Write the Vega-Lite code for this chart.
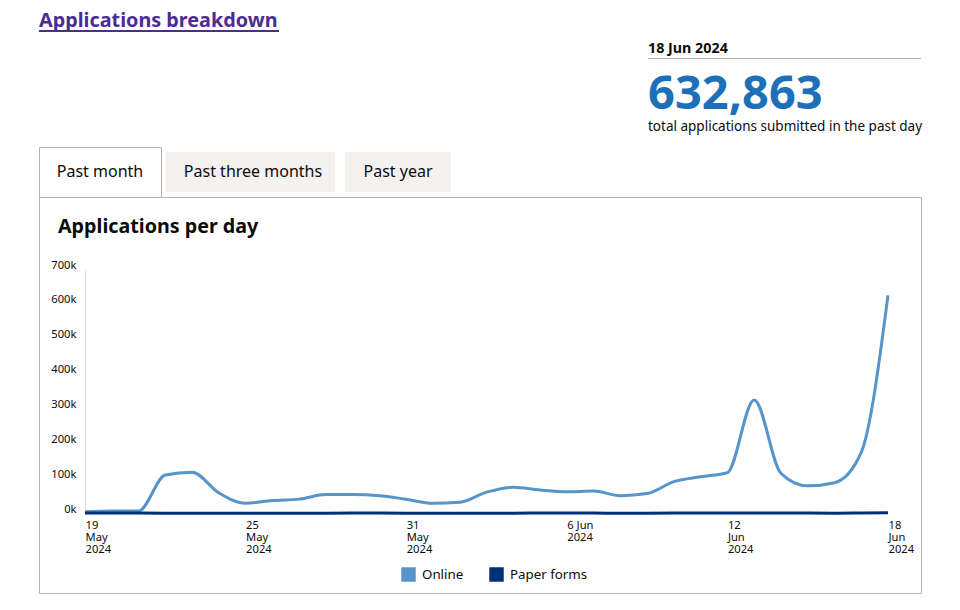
{
  "$schema": "https://vega.github.io/schema/vega-lite/v6.json",
  "background": "white",
  "padding": {"left": 38, "top": 10, "right": 40, "bottom": 17},
  "config": {
    "font": "Noto Sans",
    "view": {"stroke": null},
    "title": {"color": "#0b0c0c", "anchor": "start"}
  },
  "bounds": "flush",
  "spacing": 0,
  "vconcat": [
    {
      "width": 240,
      "height": 2,
      "view": {"fill": "#4c2c92", "stroke": null},
      "title": {"text": "Applications breakdown", "fontSize": 19.8, "fontWeight": "bold", "color": "#4c2c92", "offset": -16.5, "baseline": "alphabetic"},
      "data": {"values": []},
      "mark": "rule",
      "encoding": {}
    },
    {"width": 1, "height": 26, "data": {"values": []}, "mark": "rule", "encoding": {}},
    {
      "bounds": "flush",
      "spacing": 0,
      "hconcat": [
        {"width": 609, "height": 1, "data": {"values": []}, "mark": "rule", "encoding": {}},
        {
          "width": 273,
          "height": 1,
          "view": {"fill": "#b1b4b6", "stroke": null},
          "title": {"text": "18 Jun 2024", "fontSize": 14.3, "fontWeight": "bold", "offset": -9, "baseline": "alphabetic"},
          "data": {"values": []},
          "mark": "rule",
          "encoding": {}
        }
      ]
    },
    {"width": 1, "height": 89, "data": {"values": []}, "mark": "rule", "encoding": {}},
    {
      "bounds": "flush",
      "spacing": 0,
      "hconcat": [
        {"width": 122, "height": 50, "data": {"values": []}, "mark": "rule", "encoding": {}},
        {
          "width": 184,
          "height": 50,
          "data": {"values": [{"tab": "Past three months", "selected": false}]},
          "layer": [
            {"mark": {"type": "bar", "fill": "#f3f2f1", "stroke": "white", "strokeWidth": 10}, "encoding": {}},
            {"mark": {"type": "text", "fontSize": 16, "color": "#0b0c0c"}, "encoding": {"text": {"field": "tab"}}}
          ]
        }
      ]
    },
    {
      "bounds": "flush",
      "spacing": 0,
      "hconcat": [
        {"width": 301, "height": 50, "data": {"values": []}, "mark": "rule", "encoding": {}},
        {
          "width": 116,
          "height": 50,
          "data": {"values": [{"tab": "Past year", "selected": false}]},
          "layer": [
            {"mark": {"type": "bar", "fill": "#f3f2f1", "stroke": "white", "strokeWidth": 10}, "encoding": {}},
            {"mark": {"type": "text", "fontSize": 16, "color": "#0b0c0c"}, "encoding": {"text": {"field": "tab"}}}
          ]
        }
      ]
    },
    {
      "width": 122,
      "height": 50,
      "view": {"fill": "white", "stroke": "#b1b4b6", "strokeWidth": 1},
      "title": {
        "text": "632,863",
        "subtitle": "total applications submitted in the past day",
        "dx": 609,
        "offset": 13,
        "fontSize": 47,
        "fontWeight": "bold",
        "color": "#1d70b8",
        "subtitleFontSize": 13.5,
        "subtitleColor": "#0b0c0c",
        "subtitlePadding": 1
      },
      "data": {"values": [{"tab": "Past month", "selected": true}]},
      "mark": {"type": "text", "fontSize": 16, "color": "#0b0c0c"},
      "encoding": {"text": {"field": "tab"}}
    },
    {
      "width": 882,
      "height": 396,
      "view": {"stroke": "#b1b4b6", "strokeWidth": 1},
      "title": {"text": "Applications per day", "fontSize": 19.7, "fontWeight": "bold", "dx": 19, "offset": -56, "baseline": "alphabetic"},
      "data": {"values": [
        {"date": "2024-05-19", "series": "Online", "value": 8000},
        {"date": "2024-05-20", "series": "Online", "value": 10000},
        {"date": "2024-05-21", "series": "Online", "value": 10000},
        {"date": "2024-05-22", "series": "Online", "value": 113000},
        {"date": "2024-05-23", "series": "Online", "value": 121000},
        {"date": "2024-05-24", "series": "Online", "value": 62000},
        {"date": "2024-05-25", "series": "Online", "value": 32000},
        {"date": "2024-05-26", "series": "Online", "value": 40000},
        {"date": "2024-05-27", "series": "Online", "value": 44000},
        {"date": "2024-05-28", "series": "Online", "value": 57000},
        {"date": "2024-05-29", "series": "Online", "value": 57000},
        {"date": "2024-05-30", "series": "Online", "value": 54000},
        {"date": "2024-05-31", "series": "Online", "value": 43500},
        {"date": "2024-06-01", "series": "Online", "value": 32000},
        {"date": "2024-06-02", "series": "Online", "value": 35000},
        {"date": "2024-06-03", "series": "Online", "value": 64000},
        {"date": "2024-06-04", "series": "Online", "value": 78000},
        {"date": "2024-06-05", "series": "Online", "value": 70000},
        {"date": "2024-06-06", "series": "Online", "value": 65000},
        {"date": "2024-06-07", "series": "Online", "value": 67000},
        {"date": "2024-06-08", "series": "Online", "value": 54000},
        {"date": "2024-06-09", "series": "Online", "value": 60000},
        {"date": "2024-06-10", "series": "Online", "value": 94000},
        {"date": "2024-06-11", "series": "Online", "value": 108000},
        {"date": "2024-06-12", "series": "Online", "value": 120000},
        {"date": "2024-06-13", "series": "Online", "value": 328000},
        {"date": "2024-06-14", "series": "Online", "value": 118000},
        {"date": "2024-06-15", "series": "Online", "value": 82000},
        {"date": "2024-06-16", "series": "Online", "value": 91000},
        {"date": "2024-06-17", "series": "Online", "value": 178000},
        {"date": "2024-06-18", "series": "Online", "value": 627500},
        {"date": "2024-05-19", "series": "Paper forms", "value": 4000},
        {"date": "2024-05-20", "series": "Paper forms", "value": 4200},
        {"date": "2024-05-21", "series": "Paper forms", "value": 4100},
        {"date": "2024-05-22", "series": "Paper forms", "value": 3900},
        {"date": "2024-05-23", "series": "Paper forms", "value": 3800},
        {"date": "2024-05-24", "series": "Paper forms", "value": 3500},
        {"date": "2024-05-25", "series": "Paper forms", "value": 3400},
        {"date": "2024-05-26", "series": "Paper forms", "value": 3600},
        {"date": "2024-05-27", "series": "Paper forms", "value": 3700},
        {"date": "2024-05-28", "series": "Paper forms", "value": 3900},
        {"date": "2024-05-29", "series": "Paper forms", "value": 4000},
        {"date": "2024-05-30", "series": "Paper forms", "value": 4100},
        {"date": "2024-05-31", "series": "Paper forms", "value": 3900},
        {"date": "2024-06-01", "series": "Paper forms", "value": 3600},
        {"date": "2024-06-02", "series": "Paper forms", "value": 3500},
        {"date": "2024-06-03", "series": "Paper forms", "value": 3700},
        {"date": "2024-06-04", "series": "Paper forms", "value": 3900},
        {"date": "2024-06-05", "series": "Paper forms", "value": 4000},
        {"date": "2024-06-06", "series": "Paper forms", "value": 4100},
        {"date": "2024-06-07", "series": "Paper forms", "value": 4000},
        {"date": "2024-06-08", "series": "Paper forms", "value": 3800},
        {"date": "2024-06-09", "series": "Paper forms", "value": 3700},
        {"date": "2024-06-10", "series": "Paper forms", "value": 4200},
        {"date": "2024-06-11", "series": "Paper forms", "value": 4500},
        {"date": "2024-06-12", "series": "Paper forms", "value": 4600},
        {"date": "2024-06-13", "series": "Paper forms", "value": 4500},
        {"date": "2024-06-14", "series": "Paper forms", "value": 4300},
        {"date": "2024-06-15", "series": "Paper forms", "value": 4000},
        {"date": "2024-06-16", "series": "Paper forms", "value": 3900},
        {"date": "2024-06-17", "series": "Paper forms", "value": 4500},
        {"date": "2024-06-18", "series": "Paper forms", "value": 5363}
      ]},
      "mark": {"type": "line", "interpolate": "monotone", "strokeWidth": 3},
      "encoding": {
        "x": {
          "field": "date",
          "type": "temporal",
          "scale": {
            "type": "utc",
            "domain": [{"year": 2024, "month": 5, "date": 19, "utc": true}, {"year": 2024, "month": 6, "date": 18, "utc": true}],
            "range": [46, 849]
          },
          "axis": {
            "orient": "bottom",
            "offset": -79,
            "values": [
              {"year": 2024, "month": 5, "date": 19, "utc": true},
              {"year": 2024, "month": 5, "date": 25, "utc": true},
              {"year": 2024, "month": 5, "date": 31, "utc": true},
              {"year": 2024, "month": 6, "date": 6, "utc": true},
              {"year": 2024, "month": 6, "date": 12, "utc": true},
              {"year": 2024, "month": 6, "date": 18, "utc": true}
            ],
            "labelExpr": "utcdate(datum.value) == 6 ? [utcFormat(datum.value, '%-d %b'), utcFormat(datum.value, '%Y')] : [utcFormat(datum.value, '%-d'), utcFormat(datum.value, '%b'), utcFormat(datum.value, '%Y')]",
            "labelAlign": "left",
            "labelBaseline": "top",
            "labelPadding": 5,
            "ticks": false,
            "tickSize": 0,
            "domain": false,
            "grid": false,
            "title": null,
            "labelFontSize": 11.2,
            "labelLineHeight": 12,
            "labelColor": "#0b0c0c",
            "labelFlush": false,
            "labelOverlap": false,
            "labelBound": false
          }
        },
        "y": {
          "field": "value",
          "type": "quantitative",
          "scale": {"domain": [0, 700000], "range": [317.5, 73], "nice": false, "zero": false},
          "axis": {
            "orient": "left",
            "offset": -46,
            "values": [0, 100000, 200000, 300000, 400000, 500000, 600000, 700000],
            "labelExpr": "(datum.value / 1000) + 'k'",
            "ticks": false,
            "tickSize": 0,
            "labelPadding": 9,
            "domain": true,
            "domainColor": "#d9d9d9",
            "domainWidth": 1,
            "grid": false,
            "title": null,
            "labelFontSize": 11.2,
            "labelColor": "#0b0c0c",
            "labelBaseline": "bottom"
          }
        },
        "color": {
          "field": "series",
          "type": "nominal",
          "scale": {"domain": ["Online", "Paper forms"], "range": ["#5694ca", "#003078"]},
          "legend": {
            "orient": "none",
            "legendX": 362,
            "legendY": 537,
            "direction": "horizontal",
            "title": null,
            "symbolType": "square",
            "symbolSize": 49,
            "symbolStrokeWidth": 7.5,
            "symbolOpacity": 1,
            "labelFontSize": 13.3,
            "labelColor": "#0b0c0c",
            "labelOffset": 6,
            "columnPadding": 14
          }
        }
      }
    }
  ]
}
